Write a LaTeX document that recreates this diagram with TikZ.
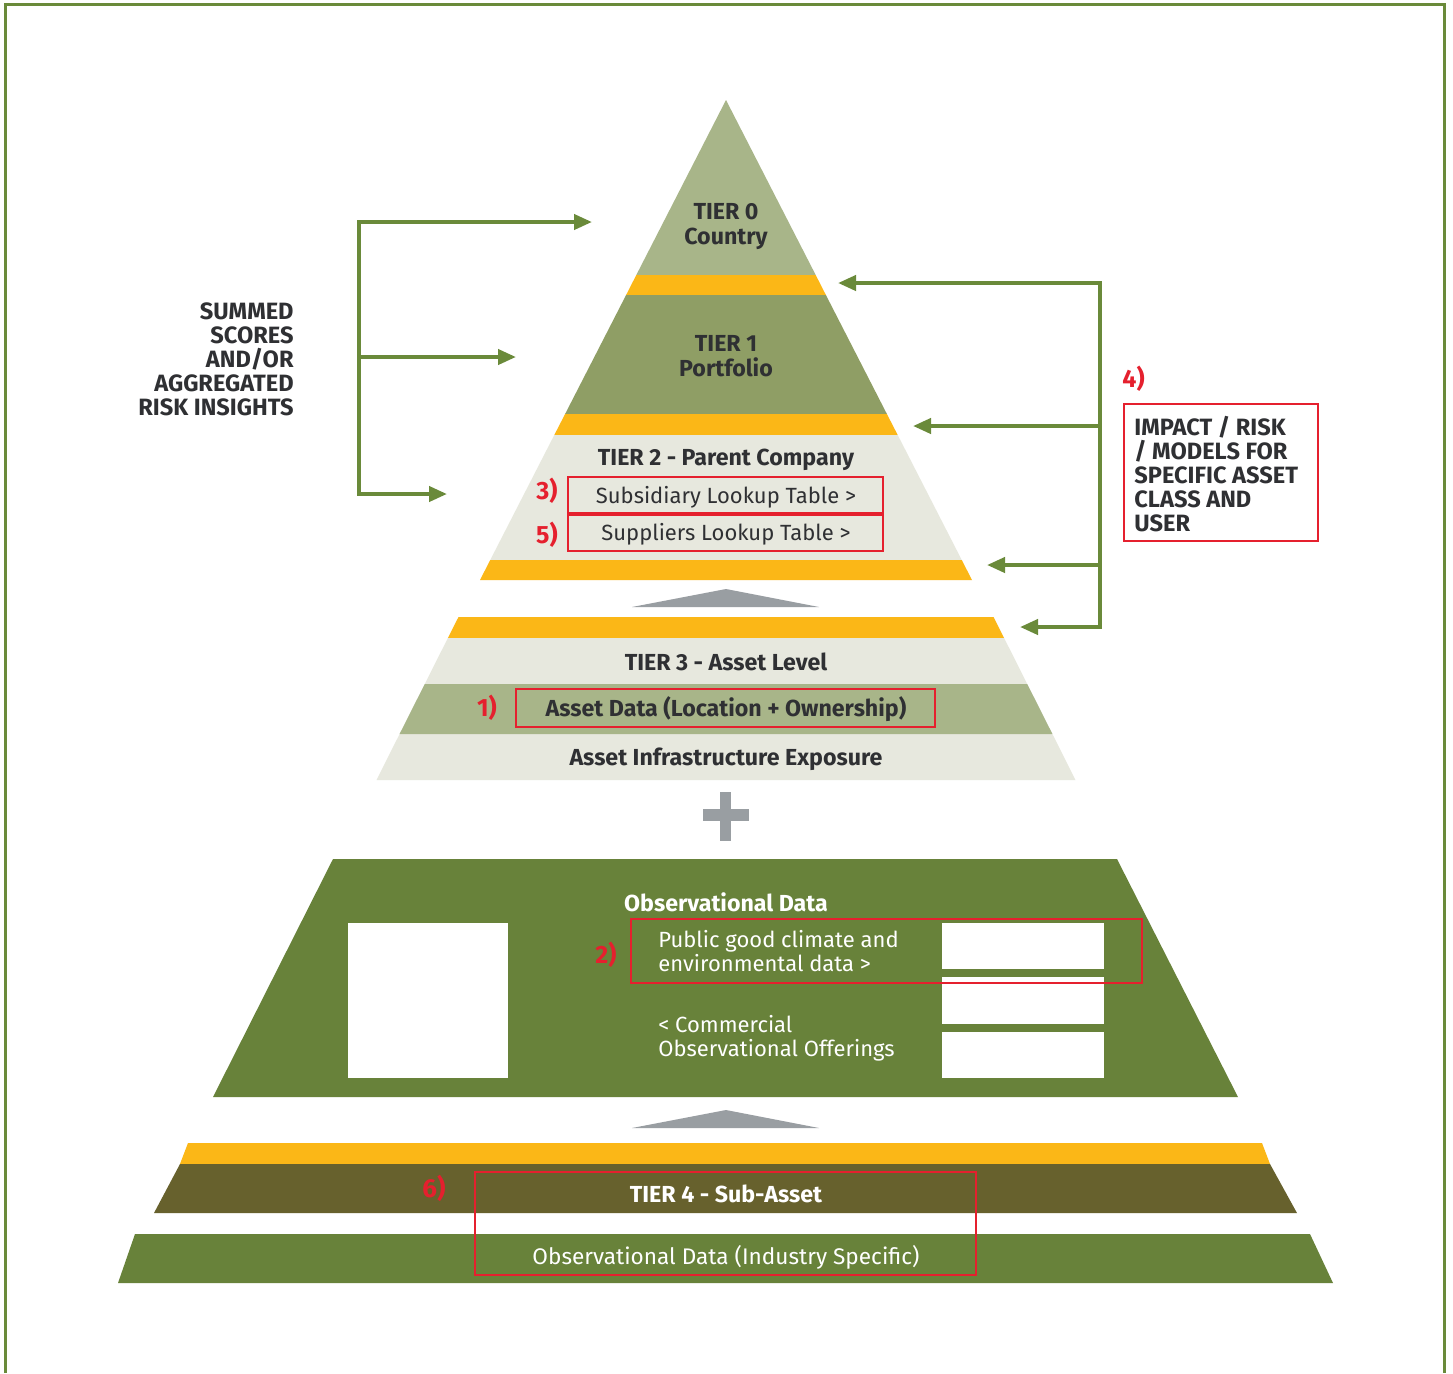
\documentclass[tikz,border=0pt]{standalone}
\usepackage{fontspec}
\setmainfont{Fira Sans}
\usetikzlibrary{arrows.meta}
\definecolor{lgreen}{HTML}{A8B589}
\definecolor{mgreen}{HTML}{8F9E65}
\definecolor{lgray}{HTML}{E7E8DE}
\definecolor{orange}{HTML}{FBB717}
\definecolor{dgreen}{HTML}{68823A}
\definecolor{olive}{HTML}{67612D}
\definecolor{redc}{HTML}{E5202E}
\definecolor{grayc}{HTML}{999EA2}
\definecolor{txt}{HTML}{2F3033}
\definecolor{arrg}{HTML}{6A8A3A}
\tikzset{
  bold/.style={font=\bfseries\fontsize{11.6}{12.5}\selectfont, text=txt, inner sep=0pt, align=center},
  reg/.style={font=\fontsize{11}{12}\selectfont, text=txt, inner sep=0pt, align=center},
  wbold/.style={bold, text=white},
  wreg/.style={reg, text=white, align=left},
  num/.style={font=\bfseries\fontsize{12.5}{13}\selectfont, text=redc, inner sep=0pt},
  caps/.style={font=\bfseries\fontsize{11.8}{12}\selectfont, text=txt, inner sep=0pt},
  redbox/.style={draw=redc, line width=1.3pt, inner sep=0pt},
  conn/.style={draw=arrg, line width=2pt},
  tip/.style={-{Triangle[length=9pt,width=7.5pt]}},
  frame/.style={draw=arrg, line width=1.5pt}
}
\begin{document}
\begin{tikzpicture}[x=0.5pt,y=-0.5pt]
\useasboundingbox (0,0) rectangle (1453,1373);
\fill[white] (0,0) rectangle (1453,1373);
\draw[frame] (5,1373) -- (5,4) -- (1444,4) -- (1444,1373);

% top pyramid
\fill[lgreen] (726,100) -- (815.7,275) -- (636.3,275) -- cycle;
\fill[orange] (636.3,275) -- (815.7,275) -- (825.9,295) -- (626.1,295) -- cycle;
\fill[mgreen] (626.1,295) -- (825.9,295) -- (886.9,414) -- (565.1,414) -- cycle;
\fill[orange] (565.1,414) -- (886.9,414) -- (897.7,435) -- (554.3,435) -- cycle;
\fill[lgray] (554.3,435) -- (897.7,435) -- (961.75,560) -- (490.25,560) -- cycle;
\fill[orange] (490.25,560) -- (961.75,560) -- (972,580) -- (480,580) -- cycle;

\node[bold] (t0) at (726,227) {TIER 0\\Country};
\node[bold] (t1) at (726,356) {TIER 1\\Portfolio};
\node[bold] (t2) at (726,460) {TIER 2 - Parent Company};
\node[redbox, minimum width=157.5pt, minimum height=18pt] (sub) at (725.5,495) {};
\node[reg] (subt) at (726,497) {Subsidiary Lookup Table >};
\node[redbox, minimum width=157.5pt, minimum height=18pt] (sup) at (725.5,533) {};
\node[reg] (supt) at (726,534) {Suppliers Lookup Table >};
\node[num] (n3) at (547,491) {3)};
\node[num] (n5) at (547,535) {5)};

% gray arrow 1
\fill[grayc] (632,607) -- (726,589) -- (819,607) -- cycle;

% tier 3
\fill[orange] (458.5,617) -- (993.5,617) -- (1004.1,638) -- (447.9,638) -- cycle;
\fill[lgray] (447.9,638) -- (1004.1,638) -- (1075.5,780) -- (376.5,780) -- cycle;
\fill[lgreen] (424.8,684) -- (1027.2,684) -- (1052.4,734) -- (399.6,734) -- cycle;
\node[bold] (t3) at (726,662) {TIER 3 - Asset Level};
\node[redbox, minimum width=209.5pt, minimum height=19pt] (ad) at (725.5,708) {};
\node[bold] (adt) at (726,709) {Asset Data (Location + Ownership)};
\node[num] (n1) at (487,708) {1)};
\node[bold] (aie) at (726,759) {Asset Infrastructure Exposure};

% plus
\fill[grayc] (719.5,792) rectangle (731,841);
\fill[grayc] (703,809) rectangle (748.5,821);

% observational data
\fill[dgreen] (333,859) -- (1117,859) -- (1238,1097) -- (213,1097) -- cycle;
\fill[white] (348,923) rectangle (508,1078);
\fill[white] (942,923) rectangle (1104,969);
\fill[white] (942,977) rectangle (1104,1024);
\fill[white] (942,1032) rectangle (1104,1078);
\node[wbold] (od) at (726,902) {Observational Data};
\node[wreg, anchor=west] (pub) at (658,951) {Public good climate and\\environmental data >};
\node[wreg, anchor=west] (com) at (658,1038) {< Commercial\\Observational Offerings};
\node[redbox, minimum width=255.5pt, minimum height=32pt] (b2) at (886.5,951) {};
\node[num] (n2) at (606,955) {2)};

% gray arrow 2
\fill[grayc] (632,1128) -- (726,1110) -- (819,1128) -- cycle;

% tier 4
\fill[orange] (188,1143) -- (1262,1143) -- (1270,1164) -- (180,1164) -- cycle;
\fill[olive] (180,1164) -- (1270,1164) -- (1297,1213) -- (154,1213) -- cycle;
\fill[dgreen] (135,1234) -- (1310,1234) -- (1333,1283) -- (118,1283) -- cycle;
\node[wbold] (t4) at (726,1194) {TIER 4 - Sub-Asset};
\node[reg, text=white, font=\fontsize{11.3}{12}\selectfont] (odi) at (726,1257) {Observational Data (Industry Specific)};
\node[redbox, minimum width=250.5pt, minimum height=51.5pt] (b6) at (725.5,1223.5) {};
\node[num, font=\bfseries\fontsize{13}{14}\selectfont] (n6) at (434,1188) {6)};

% left labels and bracket
\node[caps, anchor=east, align=right] (sum) at (294,359) {SUMMED\\SCORES\\AND/OR\\AGGREGATED\\RISK INSIGHTS};
\coordinate (L0) at (359,222);
\coordinate (L1) at (359,357);
\coordinate (L2) at (359,494);
\coordinate (T0) at (592,222);
\coordinate (T1) at (516,357);
\coordinate (T2) at (447,494);
\draw[conn, {Triangle[length=9pt,width=7.5pt]}-{Triangle[length=9pt,width=7.5pt]}] (T0) -- (L0) -- (L2) -- (T2);
\draw[conn, tip] (L1) -- (T1);

% right bracket
\coordinate (R0) at (1100,283);
\coordinate (R1) at (1100,426);
\coordinate (R2) at (1100,565);
\coordinate (R3) at (1100,627);
\coordinate (U0) at (838,283);
\coordinate (U1) at (913,426);
\coordinate (U2) at (987,565);
\coordinate (U3) at (1020,627);
\draw[conn, {Triangle[length=9pt,width=7.5pt]}-{Triangle[length=9pt,width=7.5pt]}] (U0) -- (R0) -- (R3) -- (U3);
\draw[conn, tip] (R1) -- (U1);
\draw[conn, tip] (R2) -- (U2);

\node[num, anchor=west] (n4) at (1122,379) {4)};
\node[redbox, minimum width=97pt, minimum height=68.5pt] (b4) at (1221,472.5) {};
\node[caps, anchor=west, align=left] (imp) at (1134,474) {IMPACT / RISK\\/ MODELS FOR\\SPECIFIC ASSET\\CLASS AND\\USER};
\end{tikzpicture}
\end{document}
